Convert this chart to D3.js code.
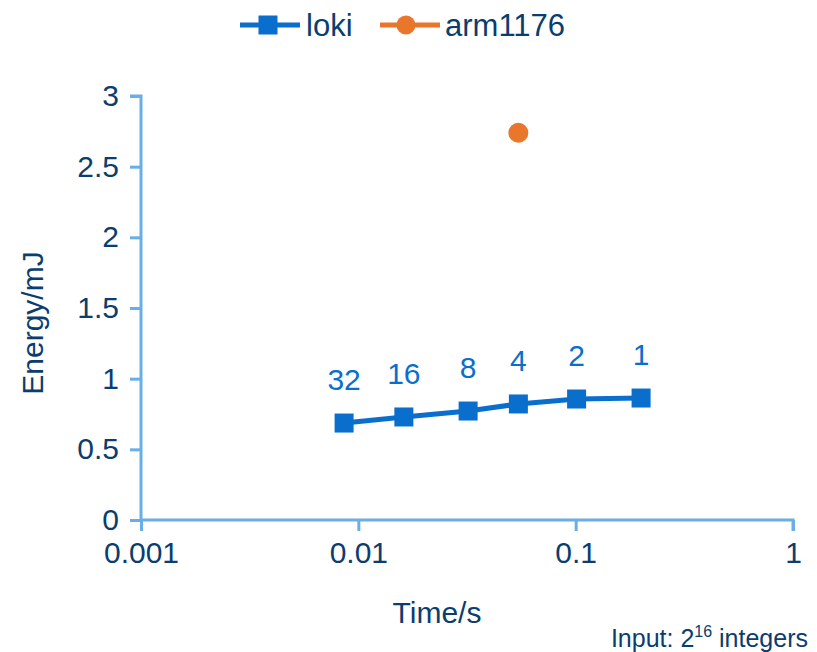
<!DOCTYPE html>
<html><head><meta charset="utf-8">
<script src="https://cdn.jsdelivr.net/npm/d3@7"></script>
<style>body{margin:0;background:#fff}svg{display:block;font-family:"Liberation Sans",Arial,sans-serif}</style>
</head><body><svg id="c" width="817" height="652"></svg>
<script>
const lokiTime = [0.0086, 0.0162, 0.032, 0.0545, 0.101, 0.2];
const lokiEnergy = [0.686, 0.729, 0.771, 0.821, 0.856, 0.863];
const lokiLabels = ["32", "16", "8", "4", "2", "1"];
const armTime = [0.0545];
const armEnergy = [2.74];
const xTicks = [0.001, 0.01, 0.1, 1];
const yTicks = [0, 0.5, 1, 1.5, 2, 2.5, 3];
const seriesNames = ["loki", "arm1176"];

const navy = "#0b3d6e", axisCol = "#6aaee6", blue = "#0a6fcc", orange = "#e8762b";
const FS = "30px";
const svg = d3.select("#c");
const x = d3.scaleLog().domain([0.001, 1]).range([141, 793]);
const y = d3.scaleLinear().domain([0, 3]).range([520, 96]);

// axes
const ya = svg.append("g").attr("transform", "translate(141,0)")
  .call(d3.axisLeft(y).tickValues(yTicks).tickSize(11).tickPadding(11).tickFormat(d => String(d)));
const xa = svg.append("g").attr("transform", "translate(0,520)")
  .call(d3.axisBottom(x).tickValues(xTicks).tickSize(11).tickPadding(11).tickFormat(d => String(d)));
[ya, xa].forEach(g => {
  g.select(".domain").attr("stroke", axisCol).attr("stroke-width", 3);
  g.selectAll(".tick line").attr("stroke", axisCol).attr("stroke-width", 3);
  g.selectAll(".tick text").attr("fill", navy).style("font-size", FS).style("font-family", "'Liberation Sans',Arial,sans-serif");
});
ya.select(".domain").attr("d", "M0,520V96H-11");
xa.select(".domain").attr("d", "M141,0H793V11");

// titles
svg.append("text").attr("transform", "translate(43,323) rotate(-90)").attr("text-anchor", "middle")
  .attr("fill", navy).style("font-size", FS).text("Energy/mJ");
svg.append("text").attr("x", 437).attr("y", 623).attr("text-anchor", "middle")
  .attr("fill", navy).style("font-size", FS).text("Time/s");
const fn = svg.append("text").attr("x", 808).attr("y", 647).attr("text-anchor", "end")
  .attr("fill", navy).style("font-size", "25px");
fn.append("tspan").text("Input: 2");
fn.append("tspan").attr("dy", -10).style("font-size", "16px").text("16");
fn.append("tspan").attr("dy", 10).text(" integers");

// loki line
const pts = lokiTime.map((t, i) => [t, lokiEnergy[i]]);
svg.append("path").datum(pts).attr("fill", "none").attr("stroke", blue).attr("stroke-width", 5)
  .attr("d", d3.line().x(d => x(d[0])).y(d => y(d[1])));
svg.selectAll("rect.m").data(pts).join("rect").attr("class", "m")
  .attr("x", d => x(d[0]) - 9.5).attr("y", d => y(d[1]) - 9.5).attr("width", 19).attr("height", 19).attr("fill", blue);
svg.selectAll("text.lbl").data(pts).join("text").attr("class", "lbl")
  .attr("x", d => x(d[0])).attr("y", d => y(d[1]) - 33).attr("text-anchor", "middle")
  .attr("fill", blue).style("font-size", FS).text((d, i) => lokiLabels[i]);

// arm point
svg.selectAll("circle.a").data(armTime).join("circle").attr("class", "a")
  .attr("cx", d => x(d)).attr("cy", (d, i) => y(armEnergy[i])).attr("r", 10).attr("fill", orange);

// legend
const lg = svg.append("g");
lg.append("line").attr("x1", 240).attr("x2", 300).attr("y1", 25).attr("y2", 25).attr("stroke", blue).attr("stroke-width", 5);
lg.append("rect").attr("x", 258.5).attr("y", 15.5).attr("width", 19).attr("height", 19).attr("fill", blue);
lg.append("text").attr("x", 306).attr("y", 36).attr("fill", navy).style("font-size", "31px").text(seriesNames[0]);
lg.append("line").attr("x1", 380).attr("x2", 440).attr("y1", 25).attr("y2", 25).attr("stroke", orange).attr("stroke-width", 5);
lg.append("circle").attr("cx", 406).attr("cy", 25).attr("r", 9.5).attr("fill", orange);
lg.append("text").attr("x", 445).attr("y", 36).attr("fill", navy).style("font-size", "31px").text(seriesNames[1]);
</script></body></html>
